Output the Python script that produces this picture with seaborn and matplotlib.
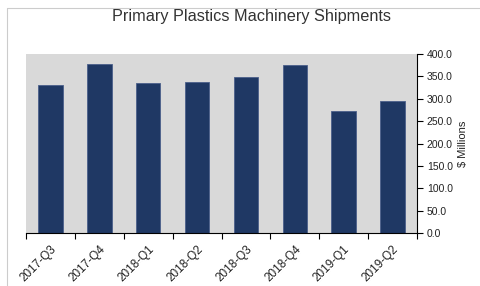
import numpy as np
import pandas as pd
import matplotlib
matplotlib.use('Agg')
import matplotlib.pyplot as plt
import seaborn as sns
from matplotlib.lines import Line2D
from matplotlib.ticker import FormatStrFormatter, FixedLocator

# 季度與出貨金額（百萬美元）
quarters = ['2017-Q3', '2017-Q4', '2018-Q1', '2018-Q2',
            '2018-Q3', '2018-Q4', '2019-Q1', '2019-Q2']
shipments = [331, 378, 335, 338, 348, 376, 272, 294]

sns.set_style('white')
plt.rcParams['font.family'] = ['Liberation Sans', 'DejaVu Sans']

df = pd.DataFrame({'quarter': quarters, 'shipments': shipments})

fig = plt.figure(figsize=(4.8, 2.86), dpi=100)
ax = fig.add_axes([26 / 480, 1 - 233 / 286, (417 - 26) / 480, (233 - 54) / 286])

sns.barplot(data=df, x='quarter', y='shipments', color='#1f3864',
            width=0.5, saturation=1, edgecolor='#4a5f8a', linewidth=0.6, ax=ax)

ax.set_facecolor('#d9d9d9')
ax.set_xlim(-0.5, len(quarters) - 0.5)
ax.set_ylim(0, 400)
ax.set_yticks(np.arange(0, 401, 50))
ax.yaxis.set_major_formatter(FormatStrFormatter('%.1f'))
ax.yaxis.tick_right()
ax.yaxis.set_label_position('right')
ax.set_ylabel('\\$ Millions', fontsize=8, labelpad=4, color='#222222')
ax.set_xlabel('')

# 類別邊界刻度（Excel 風格）
ax.xaxis.set_minor_locator(FixedLocator(np.arange(-0.5, len(quarters), 1.0)))
ax.tick_params(axis='x', which='major', length=0, labelsize=8.5, pad=7.5, labelcolor='#222222')
ax.tick_params(axis='x', which='minor', length=4, width=0.8, color='black', direction='out', bottom=True)
ax.tick_params(axis='y', which='major', length=4, width=0.8, color='black', direction='out',
               labelsize=7.5, right=True, left=False, pad=3, labelcolor='#222222')
for lbl in ax.get_xticklabels():
    lbl.set_rotation(45)
    lbl.set_ha('right')
    lbl.set_rotation_mode('anchor')

for side in ['top', 'left']:
    ax.spines[side].set_visible(False)
for side in ['right', 'bottom']:
    ax.spines[side].set_visible(True)
    ax.spines[side].set_color('black')
    ax.spines[side].set_linewidth(0.8)

fig.text(251 / 480, 1 - 17 / 286, 'Primary Plastics Machinery Shipments',
         ha='center', va='center', fontsize=11.7, color='#333333')

# 外框
fig.add_artist(Line2D([7 / 480, 7 / 480], [0, 1 - 8 / 286], color='#cccccc', lw=0.8))
fig.add_artist(Line2D([7 / 480, 1], [1 - 8 / 286, 1 - 8 / 286], color='#cccccc', lw=0.8))

fig.savefig('out.png', dpi=100)
